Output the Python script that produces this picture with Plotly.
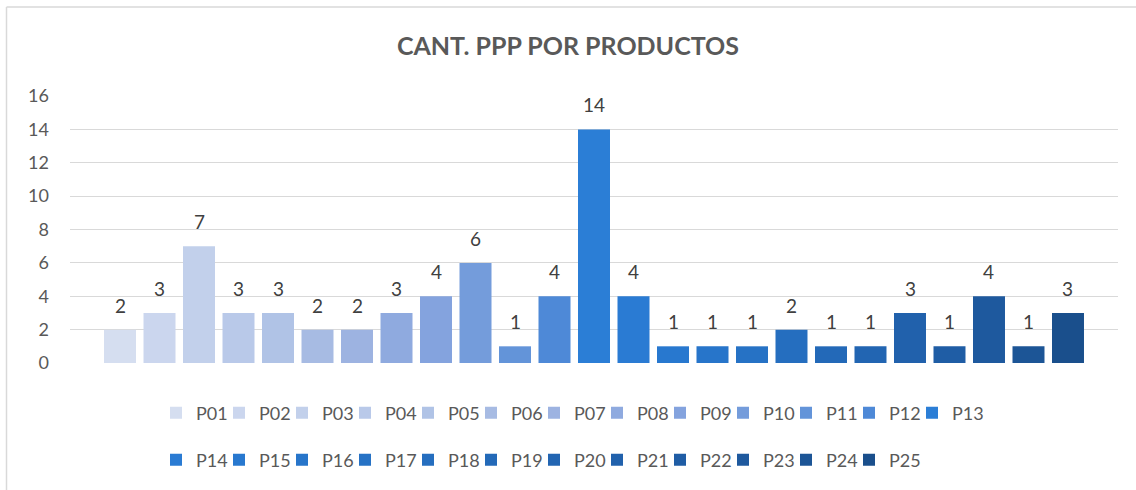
import plotly.graph_objects as go

categories = [f"P{i:02d}" for i in range(1, 26)]
values = [2, 3, 7, 3, 3, 2, 2, 3, 4, 6, 1, 4, 14, 4, 1, 1, 1, 2, 1, 1, 3, 1, 4, 1, 3]
colors = ["#D5DEF0", "#CBD6EE", "#C2D0EB", "#B9C9E9", "#B0C3E6", "#A7BBE3", "#9DB3E1",
          "#8FAADF", "#84A3DE", "#749CDB", "#6394D9", "#4E89D7", "#2B7ED6", "#2A7BD3",
          "#2878CF", "#2775CA", "#2672C5", "#256EBF", "#2369B8", "#2265B2", "#2161AC",
          "#1F5DA5", "#1E599E", "#1C5596", "#1A4F8C"]
y_ticks = [0, 2, 4, 6, 8, 10, 12, 14, 16]

FONT = "Lato, 'Open Sans', sans-serif"

fig = go.Figure()
for i, (c, v, col) in enumerate(zip(categories, values, colors)):
    fig.add_trace(go.Bar(
        x=[c], y=[v], name=c, marker=dict(color=col, line=dict(width=0)),
        width=0.81, legend="legend" if i < 13 else "legend2",
        hoverinfo="x+y",
    ))

# invisible spacer entries so the last legend label is not clipped
for lg in ("legend", "legend2"):
    fig.add_trace(go.Bar(x=[None], y=[None], name=" ", legend=lg,
                         marker=dict(color="rgba(0,0,0,0)",
                                     line=dict(width=0, color="rgba(0,0,0,0)")),
                         hoverinfo="skip"))

for c, v in zip(categories, values):
    fig.add_annotation(x=c, y=v, text=str(v), showarrow=False, yanchor="bottom",
                       yshift=11, font=dict(family=FONT, size=19, color="#404040"))

L, R, T, B = 70, 18, 96, 127
W, H = 1136, 490
pw, ph = W - L - R, H - T - B

def px(xpix):
    return (xpix - L) / pw

def py(ypix):
    return (H - B - ypix) / ph

# outer chart border (left and top visible)
fig.add_shape(type="line", xref="paper", yref="paper", x0=px(6.5), x1=px(1140),
              y0=py(7), y1=py(7), line=dict(color="#D9D9D9", width=1.5))
fig.add_shape(type="line", xref="paper", yref="paper", x0=px(6.5), x1=px(6.5),
              y0=py(7), y1=py(495), line=dict(color="#D9D9D9", width=1.5))

legend_common = dict(orientation="h", xanchor="left", yanchor="middle",
                     font=dict(family=FONT, size=18, color="#595959"),
                     bgcolor="rgba(0,0,0,0)", itemwidth=30, entrywidth=18,
                     tracegroupgap=0, itemclick=False, itemdoubleclick=False)

fig.update_layout(
    width=W, height=H,
    margin=dict(l=L, r=R, t=T, b=B, autoexpand=False),
    paper_bgcolor="white", plot_bgcolor="white",
    barmode="overlay",
    title=dict(text="<b>CANT. PPP POR PRODUCTOS</b>", x=0.5, xanchor="center",
               y=1 - 46 / H, yanchor="middle",
               font=dict(family=FONT, size=25, color="#595959")),
    xaxis=dict(categoryorder="array", categoryarray=categories,
               range=[-1.266, 25.266], showticklabels=False, showgrid=False,
               zeroline=False, showline=False, ticks=""),
    yaxis=dict(range=[0, 16], tickvals=y_ticks, showgrid=True, gridcolor="#D9D9D9",
               gridwidth=1.3, zeroline=False, showline=False, ticks="",
               ticklabelstandoff=20,
               tickfont=dict(family=FONT, size=18, color="#595959")),
    legend=dict(x=px(156), y=py(413), **legend_common),
    legend2=dict(x=px(156), y=py(460), **legend_common),
    showlegend=True,
)

fig.write_html("out.html",
               config={"displayModeBar": False},
               post_script="document.body.style.margin='0';document.body.style.overflow='hidden';")
